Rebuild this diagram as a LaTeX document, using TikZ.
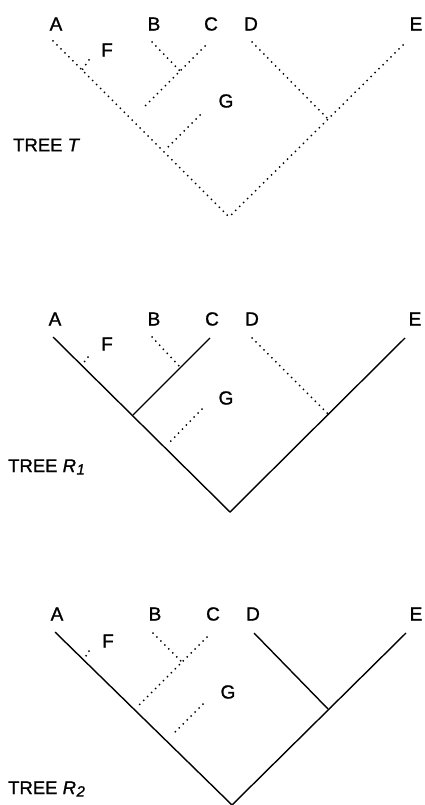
\documentclass[tikz,border=0pt]{standalone}
\usepackage{fontspec}
\setmainfont{Liberation Sans}
\newfontfamily\lblfont[FakeBold=1.2]{Liberation Sans}
\begin{document}
\begin{tikzpicture}[x=1pt,y=-1pt,
  lbl/.style={inner sep=0pt, font=\lblfont\fontsize{19}{19}\selectfont},
  treelbl/.style={inner sep=0pt, anchor=west, font=\lblfont\fontsize{18.5}{19}\selectfont},
  solidbranch/.style={line width=1.4pt},
  dotbranch/.style={line width=2pt, line cap=round, dash pattern=on 0pt off 5.6pt}]
\useasboundingbox (0,0) rectangle (424,805);

% ---------------- TREE T ----------------
\node[lbl] (TlA) at (56,24) {A};
\node[lbl] (TlB) at (154,24) {B};
\node[lbl] (TlC) at (211,24) {C};
\node[lbl] (TlD) at (251,24) {D};
\node[lbl] (TlE) at (416,24) {E};
\node[lbl] (TlF) at (107,50) {F};
\node[lbl] (TlG) at (226,101) {G};
\node[treelbl] (Tname) at (13,145) {TREE \textit{T}};
\coordinate (Ta) at (53,41);
\coordinate (Troot) at (229,217);
\coordinate (Tf1) at (82,70);
\coordinate (Tf2) at (89,60);
\coordinate (Tb) at (152,42);
\coordinate (Tbc) at (180,71);
\coordinate (Tc) at (205,46);
\coordinate (Tcend) at (142,109);
\coordinate (Tg1) at (200,115);
\coordinate (Tg2) at (166,149);
\coordinate (Td) at (252,42);
\coordinate (Tde) at (328,119);
\coordinate (Te) at (403,45);
\draw[dotbranch] (Ta) -- (Troot);
\draw[dotbranch] (Te) -- (Troot);
\draw[dotbranch] (Tf2) -- (Tf1);
\draw[dotbranch] (Tb) -- (Tbc);
\draw[dotbranch] (Tc) -- (Tcend);
\draw[dotbranch] (Tg1) -- (Tg2);
\draw[dotbranch] (Td) -- (Tde);

% ---------------- TREE R1 ----------------
\node[lbl] (RlA) at (55,319) {A};
\node[lbl] (RlB) at (154,319) {B};
\node[lbl] (RlC) at (212,319) {C};
\node[lbl] (RlD) at (252,319) {D};
\node[lbl] (RlE) at (415,319) {E};
\node[lbl] (RlF) at (107,344) {F};
\node[lbl] (RlG) at (226,398) {G};
\node[treelbl] (Rname) at (8,467) {TREE \textit{R\kern0.5pt\raisebox{-2.5pt}{\fontsize{15}{15}\selectfont 1}}};
\coordinate (Ra) at (53,337);
\coordinate (Rroot) at (230,512);
\coordinate (Rf1) at (82,365);
\coordinate (Rf2) at (88,357);
\coordinate (Rb) at (152,337);
\coordinate (Rbc) at (180,367);
\coordinate (Rc) at (210,338);
\coordinate (Rcend) at (133,415);
\coordinate (Rg1) at (202,409);
\coordinate (Rg2) at (167,445);
\coordinate (Rd) at (252,338);
\coordinate (Rde) at (328,414);
\coordinate (Re) at (405,338);
\draw[solidbranch] (Ra) -- (Rroot) -- (Re);
\draw[solidbranch] (Rc) -- (Rcend);
\draw[dotbranch] (Rf2) -- (Rf1);
\draw[dotbranch] (Rb) -- (Rbc);
\draw[dotbranch] (Rg1) -- (Rg2);
\draw[dotbranch] (Rd) -- (Rde);

% ---------------- TREE R2 ----------------
\node[lbl] (SlA) at (57,614) {A};
\node[lbl] (SlB) at (155,614) {B};
\node[lbl] (SlC) at (213,614) {C};
\node[lbl] (SlD) at (253,614) {D};
\node[lbl] (SlE) at (416,614) {E};
\node[lbl] (SlF) at (108,641) {F};
\node[lbl] (SlG) at (228,692) {G};
\node[treelbl] (Sname) at (8,789) {TREE \textit{R\kern0.5pt\raisebox{-2.5pt}{\fontsize{15}{15}\selectfont 2}}};
\coordinate (Sa) at (55,632);
\coordinate (Sroot) at (232,805);
\coordinate (Sf1) at (84,659);
\coordinate (Sf2) at (89,651);
\coordinate (Sb) at (153,633);
\coordinate (Sbc) at (182,662);
\coordinate (Sc) at (207,637);
\coordinate (Scend) at (138,706);
\coordinate (Sg1) at (203,704);
\coordinate (Sg2) at (174,733);
\coordinate (Sd) at (254,633);
\coordinate (Sde) at (328,709);
\coordinate (Se) at (406,633);
\draw[solidbranch] (Sa) -- (Sroot) -- (Se);
\draw[solidbranch] (Sd) -- (Sde);
\draw[dotbranch] (Sf2) -- (Sf1);
\draw[dotbranch] (Sb) -- (Sbc);
\draw[dotbranch] (Sc) -- (Scend);
\draw[dotbranch] (Sg1) -- (Sg2);
\end{tikzpicture}
\end{document}
